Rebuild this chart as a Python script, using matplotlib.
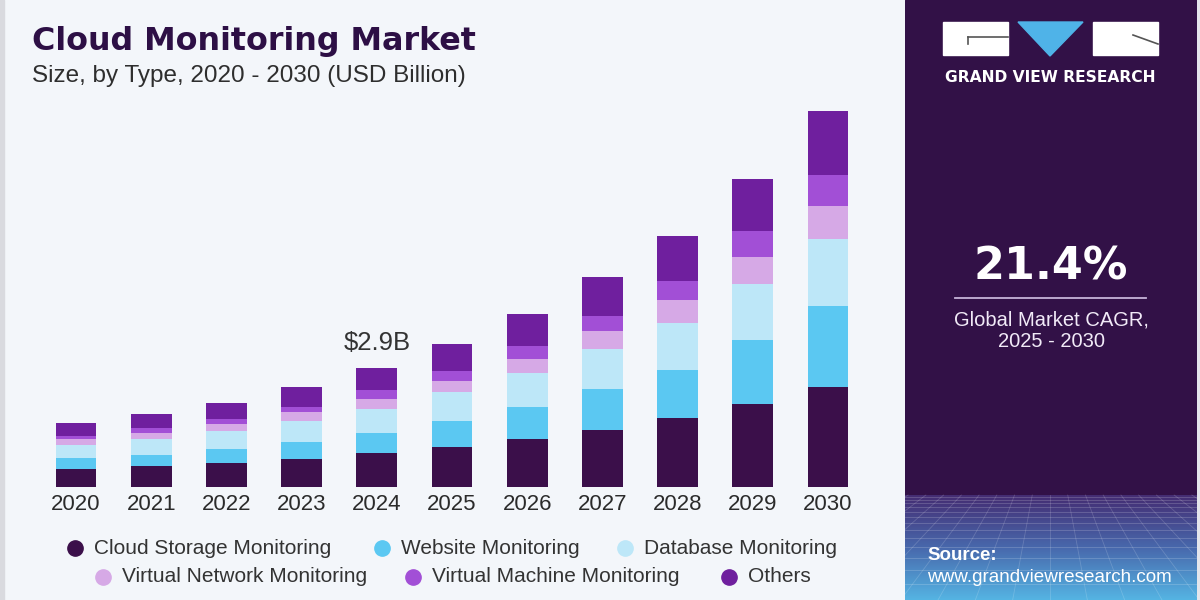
import matplotlib
matplotlib.use("Agg")
import matplotlib.pyplot as plt
import numpy as np
from matplotlib.lines import Line2D
from matplotlib.patches import Rectangle, Polygon

# ---------------- data (USD Billion) ----------------
years = ["2020", "2021", "2022", "2023", "2024", "2025", "2026", "2027", "2028", "2029", "2030"]
cloud_storage = [0.43, 0.51, 0.57, 0.68, 0.81, 0.96, 1.16, 1.38, 1.67, 2.02, 2.44]
website = [0.26, 0.26, 0.34, 0.40, 0.49, 0.64, 0.79, 1.01, 1.18, 1.56, 1.97]
database = [0.33, 0.40, 0.45, 0.53, 0.60, 0.71, 0.81, 0.97, 1.14, 1.36, 1.63]
virtual_network = [0.14, 0.15, 0.17, 0.20, 0.23, 0.27, 0.36, 0.44, 0.55, 0.67, 0.81]
virtual_machine = [0.07, 0.11, 0.11, 0.14, 0.23, 0.25, 0.32, 0.37, 0.48, 0.61, 0.74]
others = [0.32, 0.34, 0.40, 0.47, 0.54, 0.65, 0.77, 0.93, 1.08, 1.28, 1.56]

segment_labels = ["Cloud Storage Monitoring", "Website Monitoring", "Database Monitoring",
                  "Virtual Network Monitoring", "Virtual Machine Monitoring", "Others"]
segment_colors = ["#3b0f4a", "#5bc8f2", "#bde7f8", "#d6a9e6", "#a24fd6", "#6f1f9e"]
annotated_year = "2024"
annotated_text = "\\$2.9B"

title = "Cloud Monitoring Market"
subtitle = "Size, by Type, 2020 - 2030 (USD Billion)"
cagr = "21.4%"
cagr_caption = "Global Market CAGR,\n2025 - 2030"

# ---------------- figure ----------------
W, H = 1200, 600
fig = plt.figure(figsize=(12, 6), dpi=100)
fig.patch.set_facecolor("#f3f6fa")

def fx(px):
    return px / W

def fy(py):
    return 1 - py / H

# left border stripe
fig.add_artist(Rectangle((0, 0), fx(4), 1, transform=fig.transFigure,
                         color="#d9dadf", zorder=0))

# ---------------- bar chart ----------------
ax_left, ax_right = 38.4, 865.6
ax_bottom_px, ax_top_px = 486.7, 100
ax = fig.add_axes([fx(ax_left), fy(ax_bottom_px), fx(ax_right - ax_left),
                   (ax_bottom_px - ax_top_px) / H])
ax.set_facecolor("none")
series = [cloud_storage, website, database, virtual_network, virtual_machine, others]
x = np.arange(len(years))
bottom = np.zeros(len(years))
for vals, col, lab in zip(series, segment_colors, segment_labels):
    ax.bar(x, vals, width=0.545, bottom=bottom, color=col, label=lab, linewidth=0)
    bottom += np.array(vals)

ax.set_xlim(-0.5, len(years) - 0.5)
ax.set_ylim(0, 9.424)
ax.set_xticks(x)
ax.set_xticklabels(years, fontsize=16, color="#2b2b2b", family="Liberation Sans")
ax.tick_params(axis="x", length=0, pad=5)
ax.set_yticks([])
for s in ax.spines.values():
    s.set_visible(False)

i_ann = years.index(annotated_year)
ax.annotate(annotated_text, xy=(x[i_ann], bottom[i_ann]), xytext=(0, 18),
            textcoords="offset points", ha="center", va="center",
            fontsize=18.5, color="#333333", family="Liberation Sans")

# ---------------- titles ----------------
fig.text(fx(32), fy(50), title, fontsize=22.9, fontweight="bold", color="#2d0f45",
         family="DejaVu Sans", ha="left", va="baseline")
fig.text(fx(32), fy(82), subtitle, fontsize=17.5, color="#2e2e2e",
         family="Liberation Sans", ha="left", va="baseline")

# ---------------- legend (manual) ----------------
leg_marker_x = [75, 381.7, 625, 103.3, 413.3, 729.3]
leg_y = [548, 548, 548, 576.5, 576.5, 576.5]
for lab, col, mx, my in zip(segment_labels, segment_colors, leg_marker_x, leg_y):
    fig.add_artist(Line2D([fx(mx)], [fy(my)], marker="o", markersize=11,
                          color=col, linestyle="none", transform=fig.transFigure))
    fig.text(fx(mx + 19), fy(my), lab, fontsize=15, color="#333333",
             family="Liberation Sans", ha="left", va="center")

# ---------------- right panel ----------------
px0, px1 = 905, 1197
pax = fig.add_axes([fx(px0), 0, fx(px1 - px0), 1])
pax.set_xlim(px0, px1)
pax.set_ylim(H, 0)
pax.axis("off")
pax.add_patch(Rectangle((px0, 0), px1 - px0, H, color="#321147", zorder=0))

# gradient zone with grid
g_top = 495
ys = np.linspace(0, 1, 200)[:, None]
c_top = np.array([0x44, 0x2c, 0x72]) / 255
c_mid = np.array([0x48, 0x68, 0xac]) / 255
c_bot = np.array([0x55, 0xb4, 0xe3]) / 255
grad = np.where(ys < 0.5, c_top + (c_mid - c_top) * (ys / 0.5),
                c_mid + (c_bot - c_mid) * ((ys - 0.5) / 0.5))
grad = np.repeat(grad[:, None, :], 2, axis=1)
pax.imshow(grad, extent=(px0, px1, H, g_top), aspect="auto", zorder=1,
           interpolation="bilinear")
# perspective grid
vx, vy = 1050, 400
for k in np.linspace(-1.0, 1.0, 31):
    xb = 1050 + k * 560
    t0 = (g_top - vy) / (H - vy)
    xs0 = vx + (xb - vx) * t0
    pax.plot([xs0, xb], [g_top, H], color="white", alpha=0.17, lw=0.6, zorder=2)
yy = g_top + 2
step = 3.0
while yy < H:
    pax.plot([px0, px1], [yy, yy], color="white", alpha=0.2, lw=0.6, zorder=2)
    yy += step
    step *= 1.15

# right light border
fig.add_artist(Rectangle((fx(px1), 0), fx(W - px1), 1, transform=fig.transFigure,
                         color="#e4e6ec", zorder=0))

# logo
pax.add_patch(Rectangle((943, 22), 65, 33, color="white", zorder=3))
pax.plot([968, 1008], [37, 37], color="#555555", lw=1.2, zorder=4)
pax.plot([968, 968], [37, 44], color="#555555", lw=1.2, zorder=4)
pax.add_patch(Polygon([[1018, 22], [1083, 22], [1050, 56]], closed=True,
                      color="#4fb3e8", zorder=3))
pax.add_patch(Rectangle((1093, 22), 65, 33, color="white", zorder=3))
pax.plot([1133, 1158], [35, 44], color="#555555", lw=1.2, zorder=4)
pax.text(1050.5, 77.5, "GRAND VIEW RESEARCH", fontsize=11.2,
         fontweight="bold", color="white", ha="center", va="center",
         family="DejaVu Sans", zorder=4)

# CAGR
pax.text(1051, 280, cagr, fontsize=32, fontweight="bold", color="white",
         ha="center", va="baseline", family="DejaVu Sans", zorder=4)
pax.plot([955, 1146], [298, 298], color="#c6b3d9", lw=1.3, zorder=4)
pax.text(1051, 331, cagr_caption, fontsize=14.5, color="#f1eaf7", ha="center",
         va="center", family="Liberation Sans", linespacing=1.15, zorder=4)

# source
pax.text(927, 556, "Source:", fontsize=13.5, fontweight="bold", color="white",
         ha="left", va="center", family="Liberation Sans", zorder=4)
pax.text(927, 578, "www.grandviewresearch.com", fontsize=13.6, color="white",
         ha="left", va="center", family="Liberation Sans", zorder=4)

fig.savefig("out.png", dpi=100, facecolor=fig.get_facecolor())
